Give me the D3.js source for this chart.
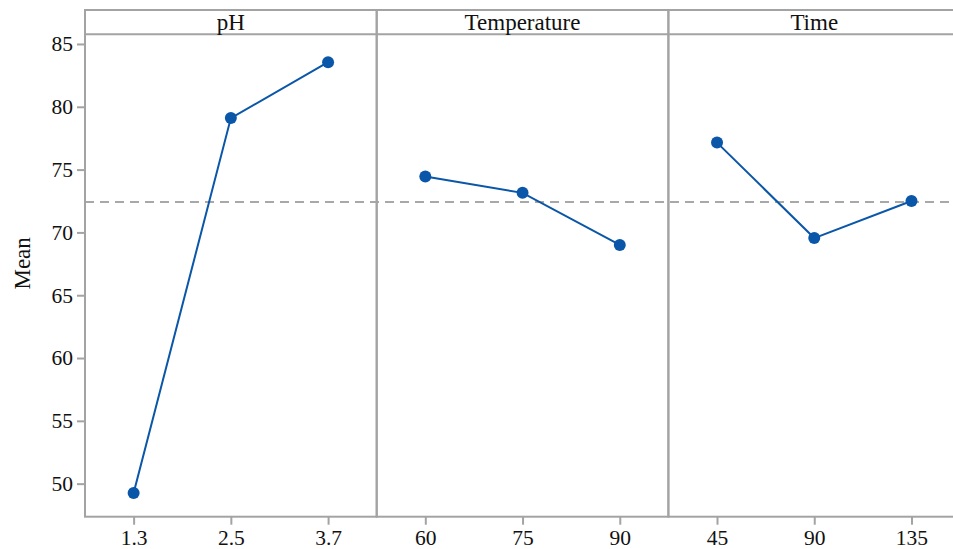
<!DOCTYPE html>
<html>
<head>
<meta charset="utf-8">
<script src="https://cdn.jsdelivr.net/npm/d3@7"></script>
<style>
  html, body { margin: 0; padding: 0; background: #fff; overflow: hidden; }
  text { font-family: "Liberation Serif", "DejaVu Serif", serif; fill: #111; }
</style>
</head>
<body>
<svg id="chart" width="953" height="549"></svg>
<script>
// Données
const factors = ["pH", "Temperature", "Time"];
const phLevels = ["1.3", "2.5", "3.7"];
const phMeans = [49.25, 79.1, 83.55];
const tempLevels = ["60", "75", "90"];
const tempMeans = [74.45, 73.15, 69.0];
const timeLevels = ["45", "90", "135"];
const timeMeans = [77.15, 69.55, 72.5];
const grandMean = 72.43;
const yTicks = [50, 55, 60, 65, 70, 75, 80, 85];

const panels = [
  { name: factors[0], levels: phLevels, means: phMeans },
  { name: factors[1], levels: tempLevels, means: tempMeans },
  { name: factors[2], levels: timeLevels, means: timeMeans }
];

// Mise en page
const plotLeft = 85, plotTop = 10, stripH = 24.3, plotBottom = 516.7;
const panelW = 291.7;
const frameColor = "#a3a3a3";
const lineColor = "#0a56a8";
const tickFont = "21.5px";
const titleFont = "23px";

const svg = d3.select("#chart");

// Échelle Y commune
const y = d3.scaleLinear()
  .domain([47.37, 85.77])
  .range([plotBottom, plotTop + stripH]);

// Ligne de moyenne (derrière)
svg.append("line")
  .attr("x1", plotLeft).attr("x2", plotLeft + panelW * 3)
  .attr("y1", y(grandMean)).attr("y2", y(grandMean))
  .attr("stroke", "#a8a8a8")
  .attr("stroke-width", 2)
  .attr("stroke-dasharray", "9,6");

panels.forEach((p, i) => {
  const x0 = plotLeft + i * panelW;
  const x = d3.scalePoint()
    .domain(p.levels)
    .range([x0, x0 + panelW])
    .padding(0.5);

  const g = svg.append("g");

  // Cadre du panneau
  g.append("rect")
    .attr("x", x0).attr("y", plotTop)
    .attr("width", panelW).attr("height", plotBottom - plotTop)
    .attr("fill", "none")
    .attr("stroke", frameColor)
    .attr("stroke-width", 2);

  // Séparateur du bandeau
  g.append("line")
    .attr("x1", x0).attr("x2", x0 + panelW)
    .attr("y1", plotTop + stripH).attr("y2", plotTop + stripH)
    .attr("stroke", frameColor)
    .attr("stroke-width", 2);

  g.append("text")
    .attr("x", x0 + panelW / 2)
    .attr("y", plotTop + stripH - 4)
    .attr("text-anchor", "middle")
    .style("font-size", titleFont)
    .text(p.name);

  // Axe X
  const xAxis = g.append("g")
    .attr("transform", `translate(0,${plotBottom})`)
    .call(d3.axisBottom(x).tickSize(8).tickPadding(5));
  xAxis.select(".domain").remove();
  xAxis.selectAll(".tick line").attr("stroke", frameColor).attr("stroke-width", 2);
  xAxis.selectAll(".tick text")
    .style("font-size", tickFont)
    .style("font-family", "'Liberation Serif', serif")
    .attr("fill", "#111");

  const pts = p.levels.map((l, k) => ({ level: l, mean: p.means[k] }));

  g.append("path")
    .datum(pts)
    .attr("fill", "none")
    .attr("stroke", lineColor)
    .attr("stroke-width", 2)
    .attr("d", d3.line().x(d => x(d.level)).y(d => y(d.mean)));

  g.selectAll("circle")
    .data(pts)
    .enter().append("circle")
    .attr("cx", d => x(d.level))
    .attr("cy", d => y(d.mean))
    .attr("r", 6)
    .attr("fill", lineColor);
});

// Axe Y
const yAxis = svg.append("g")
  .attr("transform", `translate(${plotLeft},0)`)
  .call(d3.axisLeft(y).tickValues(yTicks).tickSize(8).tickPadding(4));
yAxis.select(".domain").remove();
yAxis.selectAll(".tick line").attr("stroke", frameColor).attr("stroke-width", 2);
yAxis.selectAll(".tick text")
  .style("font-size", tickFont)
  .style("font-family", "'Liberation Serif', serif")
  .attr("fill", "#111");

svg.append("text")
  .attr("transform", `translate(30,${(plotTop + plotBottom) / 2}) rotate(-90)`)
  .attr("text-anchor", "middle")
  .style("font-size", titleFont)
  .text("Mean");
</script>
</body>
</html>
